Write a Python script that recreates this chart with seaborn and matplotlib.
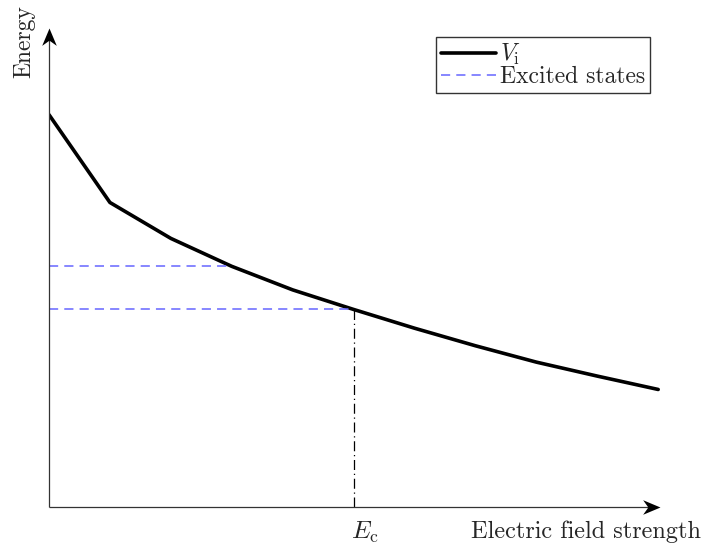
import numpy as np
import pandas as pd
import seaborn as sns
import matplotlib.pyplot as plt
from matplotlib.lines import Line2D
from matplotlib.path import Path

# Ionization potential V_i versus electric field strength
field = [0, 1, 2, 3, 4, 5, 6, 7, 8, 9, 10]
v_i = [9.83, 7.63, 6.73, 6.03, 5.44, 4.95, 4.48, 4.04, 3.63, 3.28, 2.945]

# Excited state levels and where each meets the curve
state_levels = [6.03, 4.95]
state_fields = [3, 5]
e_crit = 5

sns.set_style("white")
plt.rcParams["font.family"] = ["cmr10", "DejaVu Serif"]
plt.rcParams["mathtext.fontset"] = "cm"
plt.rcParams["axes.formatter.use_mathtext"] = True

fig = plt.figure(figsize=(7.05, 5.48), dpi=100)
ax = fig.add_axes([0.0695, 0.0748, 0.8667, 0.874])

df = pd.DataFrame({"E": field, "V": v_i})
sns.lineplot(data=df, x="E", y="V", ax=ax, color="black", lw=2.6,
             legend=False)

blue = "#6666ff"
for lvl, xf in zip(state_levels, state_fields):
    ax.plot([0, xf], [lvl, lvl], color=blue, lw=1.1, dashes=(6, 4))

ax.plot([e_crit, e_crit], [0, state_levels[1]], color="black", lw=0.9,
        linestyle=(0, (8, 3, 1, 3)))

xmax, ymax = 10.03, 12.0
ax.set_xlim(0, xmax)
ax.set_ylim(0, ymax)
for s in ax.spines.values():
    s.set_visible(False)
ax.set_xticks([])
ax.set_yticks([])
ax.set_xlabel("")
ax.set_ylabel("")

# axis lines with stealth-style arrow heads
ax.plot([0, xmax - 0.1], [0, 0], color="#333333", lw=0.9, clip_on=False,
        solid_capstyle="butt")
ax.plot([0, 0], [0, ymax - 0.1], color="#333333", lw=0.9, clip_on=False,
        solid_capstyle="butt")
head_x = Path([(0, 0), (-1, 0.42), (-0.7, 0), (-1, -0.42), (0, 0)],
              [Path.MOVETO, Path.LINETO, Path.LINETO, Path.LINETO,
               Path.CLOSEPOLY])
head_y = Path([(0, 0), (0.42, -1), (0, -0.7), (-0.42, -1), (0, 0)],
              [Path.MOVETO, Path.LINETO, Path.LINETO, Path.LINETO,
               Path.CLOSEPOLY])
ax.plot([xmax], [0], marker=head_x, markersize=25, color="black",
        markeredgewidth=0, clip_on=False)
ax.plot([0], [ymax], marker=head_y, markersize=25, color="black",
        markeredgewidth=0, clip_on=False)

fig.text(0.034, 0.925, "Energy", rotation=90, ha="center", va="center",
         fontsize=17)
fig.text(0.994, 0.029, "Electric field strength", ha="right",
         va="center", fontsize=17.5)
fig.text(0.518, 0.029, r"$E_{\mathrm{c}}$", ha="center", va="center",
         fontsize=18)

handles = [Line2D([0], [0], color="black", lw=2.6),
           Line2D([0], [0], color=blue, lw=1.1, dashes=(6, 4))]
leg = ax.legend(handles, [r"$V_{\mathrm{i}}$", "Excited states"],
                loc="upper right", bbox_to_anchor=(0.983, 0.981),
                fontsize=17, frameon=True, fancybox=False,
                handlelength=2.35, handletextpad=0.15, borderpad=0.2,
                labelspacing=-0.05, borderaxespad=0)
leg.get_frame().set_edgecolor("black")
leg.get_frame().set_linewidth(1.0)

fig.savefig("out.png", dpi=100)
